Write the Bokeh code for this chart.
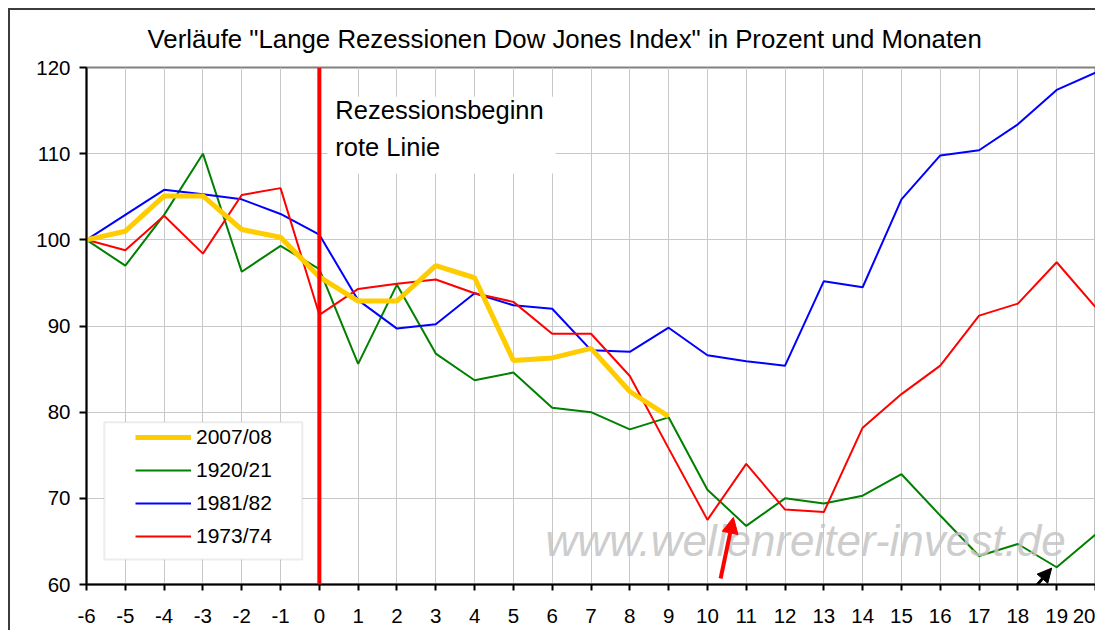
from bokeh.plotting import figure
from bokeh.models import (Legend, LegendItem, Span, Label, Arrow, NormalHead,
                          BoxAnnotation, FixedTicker, PrintfTickFormatter)
from bokeh.embed import file_html
from bokeh.resources import INLINE

FONT = "Liberation Sans"

title_text = 'Verläufe "Lange Rezessionen Dow Jones Index" in Prozent und Monaten'
note_text = "Rezessionsbeginn\nrote Linie"
watermark_text = "www.wellenreiter-invest.de"

months = list(range(-6, 21))
months_2007 = list(range(-6, 10))

s2007 = [100, 101.0, 105.1, 105.1, 101.2, 100.3, 95.7, 92.9, 92.9, 97.0,
         95.6, 86.0, 86.3, 87.4, 82.4, 79.5]
s1920 = [100, 97.0, 102.9, 110.0, 96.3, 99.3, 96.6, 85.6, 94.8, 86.8,
         83.7, 84.6, 80.5, 80.0, 78.0, 79.4, 71.0, 66.8, 70.0, 69.4,
         70.3, 72.8, 68.0, 63.3, 64.7, 62.0, 65.8]
s1981 = [100, 102.9, 105.8, 105.3, 104.7, 103.0, 100.6, 93.0, 89.7, 90.2,
         93.8, 92.4, 92.0, 87.2, 87.0, 89.8, 86.6, 85.9, 85.4, 95.2,
         94.5, 104.7, 109.8, 110.4, 113.4, 117.4, 119.4]
s1973 = [100, 98.8, 102.8, 98.4, 105.2, 106.0, 91.3, 94.3, 94.9, 95.4,
         93.8, 92.8, 89.1, 89.1, 84.2, 75.8, 67.5, 74.0, 68.7, 68.4,
         78.2, 82.1, 85.4, 91.2, 92.6, 97.4, 92.2]

series_names = ["2007/08", "1920/21", "1981/82", "1973/74"]
y_ticks = [60, 70, 80, 90, 100, 110, 120]

# annotation anchor points (data space)
red_arrow = dict(x0=10.34, y0=60.7, x1=10.67, y1=67.8)
black_arrow = dict(x0=18.04, y0=57.6, x1=18.87, y1=61.9)
legend_box = dict(left=-5.54, right=-0.44, top=78.84, bottom=62.9)
note_box = dict(left=0.21, right=6.09, top=116.6, bottom=107.7)

p = figure(width=1087, height=622, x_range=(-6, 20), y_range=(60, 120),
           output_backend="svg", toolbar_location=None,
           min_border_left=76, min_border_right=2, min_border_top=57,
           min_border_bottom=48)
p.styles = {"margin-left": "8px", "margin-top": "8px",
            "border-left": "2px solid #3c3c3c", "border-top": "2px solid #3c3c3c"}

p.title.text = title_text
p.title.text_font = FONT
p.title.text_font_size = "25.8px"
p.title.text_font_style = "normal"
p.title.text_color = "black"
p.title.align = "left"
p.title.vertical_align = "top"
p.title.offset = 61
p.title.standoff = 26

p.outline_line_color = "#808080"
p.outline_line_width = 2

for ax in (p.xaxis[0], p.yaxis[0]):
    ax.axis_line_color = "black"
    ax.axis_line_width = 2
    ax.major_tick_line_color = "black"
    ax.major_tick_line_width = 2
    ax.major_tick_in = 0
    ax.minor_tick_line_color = None
    ax.major_label_text_font = FONT
    ax.major_label_text_font_size = "20.5px"
    ax.major_label_text_color = "black"
    ax.formatter = PrintfTickFormatter(format="%d")

p.xaxis[0].ticker = FixedTicker(ticks=months)
p.xaxis[0].major_tick_out = 6
p.xaxis[0].major_label_standoff = 18
p.yaxis[0].ticker = FixedTicker(ticks=y_ticks)
p.yaxis[0].major_tick_out = 7
p.yaxis[0].major_label_standoff = 9

p.xgrid.ticker = FixedTicker(ticks=months)
p.ygrid.ticker = FixedTicker(ticks=y_ticks)
for g in (p.xgrid[0], p.ygrid[0]):
    g.grid_line_color = "#c8c8c8"
    g.grid_line_width = 1

r1920 = p.line(months, s1920, line_color="#008000", line_width=2)
r1981 = p.line(months, s1981, line_color="#0000FF", line_width=2)
r1973 = p.line(months, s1973, line_color="#FF0000", line_width=2)
r2007 = p.line(months_2007, s2007, line_color="#FFCC00", line_width=5)

p.add_layout(Span(location=0, dimension="height", line_color="#FF0000", line_width=4))

p.add_layout(BoxAnnotation(left=note_box["left"], right=note_box["right"],
                           top=note_box["top"], bottom=note_box["bottom"],
                           fill_color="white", fill_alpha=1.0, line_alpha=0))
note = Label(x=0, y=120, x_offset=16, y_offset=-28, text=note_text,
             anchor="top_left", text_font=FONT, text_font_size="25.5px",
             text_line_height=1.33, text_color="black")
p.add_layout(note)

wm = Label(x=5.83, y=62.3, text=watermark_text, text_font=FONT,
           text_font_size="44px", text_font_style="italic",
           text_color="#c4c4c4", text_alpha=0.85)
p.add_layout(wm)

p.add_layout(Arrow(end=NormalHead(size=16, fill_color="#FF0000", line_color="#FF0000"),
                   x_start=red_arrow["x0"], y_start=red_arrow["y0"],
                   x_end=red_arrow["x1"], y_end=red_arrow["y1"],
                   line_color="#FF0000", line_width=4))
p.add_layout(Arrow(end=NormalHead(size=14, fill_color="black", line_color="black"),
                   x_start=black_arrow["x0"], y_start=black_arrow["y0"],
                   x_end=black_arrow["x1"], y_end=black_arrow["y1"],
                   line_color="black", line_width=3))

p.add_layout(BoxAnnotation(left=legend_box["left"], right=legend_box["right"],
                           top=legend_box["top"], bottom=legend_box["bottom"],
                           fill_color="white", fill_alpha=1.0,
                           line_color="#c0c0c0", line_width=2))

legend = Legend(items=[LegendItem(label=series_names[0], renderers=[r2007]),
                       LegendItem(label=series_names[1], renderers=[r1920]),
                       LegendItem(label=series_names[2], renderers=[r1981]),
                       LegendItem(label=series_names[3], renderers=[r1973])],
                location=(49, 36), padding=0, margin=0, spacing=9,
                glyph_width=56, glyph_height=24, label_height=24,
                label_standoff=5, border_line_alpha=0,
                background_fill_alpha=0,
                label_text_font=FONT, label_text_font_size="21px",
                label_text_color="black")
p.add_layout(legend)

open("out.html", "w").write(file_html(p, INLINE))
